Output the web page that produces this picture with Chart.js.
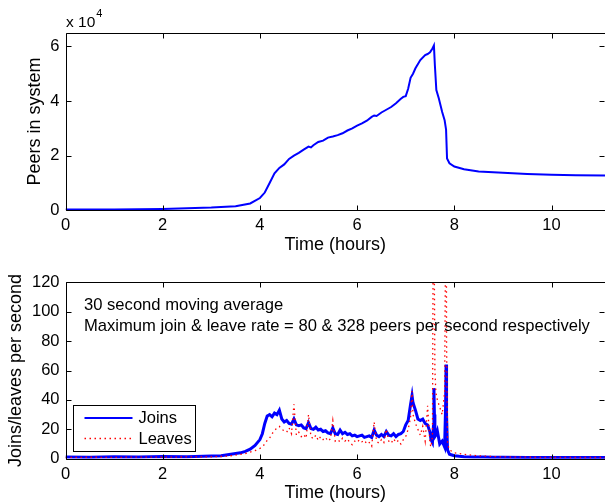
<!DOCTYPE html>
<html>
<head>
<meta charset="utf-8">
<script src="https://cdn.jsdelivr.net/npm/chart.js@4.4.1/dist/chart.umd.min.js"></script>
<style>
  html, body { margin: 0; padding: 0; background: #fff; }
  #wrap { position: relative; width: 605px; height: 504px; overflow: hidden; }
  canvas { position: absolute; left: 0; }
  #peers { top: 0; }
  #rates { top: 260px; }
</style>
</head>
<body>
<div id="wrap">
  <canvas id="peers" width="605" height="260"></canvas>
  <canvas id="rates" width="605" height="244"></canvas>
</div>
<script>
// top panel: peers in system
const peerHours = [0, 1, 2, 3, 3.5, 3.8, 4.0, 4.1, 4.2, 4.3, 4.4, 4.5, 4.6, 4.7, 4.8, 4.9, 5.0, 5.05,
  5.1, 5.2, 5.3, 5.4, 5.5, 5.6, 5.7, 5.8, 5.9, 6.0, 6.1, 6.2, 6.3, 6.35, 6.4, 6.5, 6.6, 6.7, 6.8,
  6.9, 6.95, 7.0, 7.05, 7.1, 7.15, 7.2, 7.3, 7.4, 7.45, 7.5, 7.55, 7.58, 7.6, 7.63, 7.68, 7.75,
  7.8, 7.83, 7.85, 7.9, 8.0, 8.2, 8.5, 9.0, 9.5, 10, 10.5, 11.1];
const peerCounts = [300, 300, 500, 1000, 1500, 2500, 4500, 6500, 10000, 13500, 15500, 16800, 18800,
  20000, 21000, 22200, 23300, 23000, 23800, 25000, 25500, 26600, 27000, 27500, 28200, 29200, 30000,
  31000, 31800, 32800, 34200, 34700, 34500, 35800, 36800, 37800, 39200, 40800, 41500, 41800, 44500,
  48500, 50000, 52000, 55000, 56800, 57200, 57800, 59200, 60300, 53000, 44000, 41000, 36000, 33000,
  29500, 19000, 17200, 16000, 15000, 14200, 13700, 13300, 13000, 12800, 12700];

// bottom panel: joins and leaves per second (30 s moving average)
const rateHours = [0, 0.5, 1, 1.5, 2, 2.5, 3, 3.2, 3.4, 3.6,
  3.7, 3.8, 3.9, 4.0, 4.05, 4.1, 4.15, 4.2, 4.25, 4.3,
  4.35, 4.4, 4.45, 4.5, 4.55, 4.6, 4.65, 4.7, 4.75, 4.8,
  4.85, 4.9, 4.95, 5.0, 5.05, 5.1, 5.15, 5.2, 5.25, 5.3,
  5.35, 5.4, 5.45, 5.5, 5.55, 5.6, 5.65, 5.7, 5.75, 5.8,
  5.85, 5.9, 5.95, 6.0, 6.05, 6.1, 6.15, 6.2, 6.25, 6.3,
  6.35, 6.4, 6.45, 6.5, 6.55, 6.6, 6.65, 6.7, 6.75, 6.8,
  6.85, 6.9, 6.95, 7.0, 7.05, 7.1, 7.13, 7.15, 7.2, 7.25,
  7.3, 7.35, 7.4, 7.45, 7.5, 7.52, 7.55, 7.57, 7.58, 7.59,
  7.6, 7.62, 7.65, 7.7, 7.75, 7.8, 7.82, 7.83, 7.84, 7.86,
  7.9, 7.95, 8.0, 8.1, 8.2, 8.4, 8.6, 8.8, 9.0, 9.5,
  10, 10.5, 11.1];
const joinRates = [1.2, 1.0, 1.3, 1.1, 1.5, 1.3, 1.8, 2.0, 3.0, 4.0,
  5.0, 6.5, 9, 13, 17, 24, 29, 30, 28.5, 31,
  30, 33, 27, 25, 26, 24, 23.5, 27, 23, 22.5,
  23, 21, 20.5, 24.5, 20.5, 20, 21.5, 19.5, 20, 18.5,
  19, 17.5, 17, 21, 17, 16.5, 19.5, 17, 18, 16.5,
  17, 15.5, 16, 15, 15.5, 16, 14.5, 15, 15.5, 14.5,
  19.5, 16, 15, 16.5, 15, 18.5, 16, 15.5, 17, 15,
  16.5, 17, 18.5, 23, 26, 37, 43, 38, 33, 27,
  26, 27, 24, 23, 18, 13, 11, 22, 48, 30,
  15, 16, 19, 10, 12, 8, 35, 64, 30, 6,
  3, 2.5, 2, 1.6, 1.4, 1.2, 1.1, 1.0, 1.0, 0.9,
  0.9, 0.8, 0.8];
const leaveRates = [0.8, 1.0, 0.9, 1.1, 1.0, 1.2, 1.3, 1.5, 2.0, 3.0,
  3.5, 4.5, 5.5, 7, 8, 10, 12.5, 14, 17, 19,
  21, 22, 20, 19, 18, 21, 17, 37, 16, 18,
  15, 16.5, 14, 30, 15, 13.5, 16, 12.5, 15, 13,
  14.5, 12, 13.5, 26, 12, 13, 11.5, 14, 12, 13.5,
  11, 9.5, 12, 11, 13, 11.5, 12.5, 10, 11, 8.5,
  25, 12, 10.5, 13, 11, 20, 12, 10.5, 13.5, 11,
  12.5, 10, 13, 15, 20, 28, 46, 30, 24, 20,
  16, 22, 12, 36, 10, 8, 15, 200, 328, 120,
  60, 45, 40, 35, 30, 45, 150, 260, 80, 10,
  6, 5, 4, 3.5, 3, 2.2, 1.8, 1.5, 1.2, 1.0,
  0.9, 0.8, 0.8];

const hourTicks = [0, 2, 4, 6, 8, 10];
const peerTicks = [0, 20000, 40000, 60000];
const rateTicks = [0, 20, 40, 60, 80, 100, 120];
const rateNotes = ['30 second moving average',
  'Maximum join & leave rate = 80 & 328 peers per second respectively'];

const FONT = '"Liberation Sans", Arial, Helvetica, sans-serif';
const TICK = 5;

// matlab look: full box, inward ticks on all four sides, plus legend / notes
const matlabFrame = {
  id: 'matlabFrame',
  afterDatasetsDraw(chart, args, opts) {
    const {ctx, chartArea: a, scales: {x, y}} = chart;
    const L = Math.round(a.left) + 0.5, R = Math.round(a.right) + 0.5;
    const T = Math.round(a.top) + 0.5, B = Math.round(a.bottom) + 0.5;
    ctx.save();
    ctx.strokeStyle = '#000';
    ctx.lineWidth = 1;
    ctx.beginPath();
    ctx.moveTo(L, T); ctx.lineTo(R, T); ctx.lineTo(R, B); ctx.lineTo(L, B); ctx.closePath();
    x.ticks.forEach((t) => {
      const px = Math.round(x.getPixelForValue(t.value)) + 0.5;
      ctx.moveTo(px, B); ctx.lineTo(px, B - TICK);
      ctx.moveTo(px, T); ctx.lineTo(px, T + TICK);
    });
    y.ticks.forEach((t) => {
      const py = Math.round(y.getPixelForValue(t.value)) + 0.5;
      ctx.moveTo(L, py); ctx.lineTo(L + TICK, py);
      ctx.moveTo(R - 1, py); ctx.lineTo(R - 1 - TICK, py);
    });
    ctx.stroke();

    ctx.fillStyle = '#000';
    if (opts.exponent) {
      ctx.textBaseline = 'alphabetic';
      ctx.textAlign = 'left';
      ctx.font = '15.5px ' + FONT;
      ctx.fillText('x 10', 66, 27);
      const w = ctx.measureText('x 10').width;
      ctx.font = '11px ' + FONT;
      ctx.fillText(opts.exponent, 66 + w + 1, 17);
    }
    if (opts.notes) {
      ctx.font = '16.6px ' + FONT;
      ctx.textAlign = 'left';
      ctx.textBaseline = 'middle';
      opts.notes.forEach((s, i) => ctx.fillText(s, 84, 45 + i * 21));
    }
    if (opts.legend) {
      const bx = 73.5, by = 145.5, bw = 122, bh = 46;
      ctx.fillStyle = '#fff';
      ctx.fillRect(bx, by, bw, bh);
      ctx.strokeStyle = '#000';
      ctx.lineWidth = 1;
      ctx.strokeRect(bx, by, bw, bh);
      const items = chart.data.datasets.slice().sort((p, q) => q.order - p.order);
      items.forEach((ds, i) => {
        const ly = by + 12.5 + i * 20.5;
        ctx.strokeStyle = ds.borderColor;
        ctx.lineWidth = Math.min(ds.borderWidth, 2.2);
        ctx.setLineDash(ds.borderDash || []);
        ctx.beginPath();
        ctx.moveTo(bx + 11, ly); ctx.lineTo(bx + 59, ly);
        ctx.stroke();
        ctx.setLineDash([]);
        ctx.fillStyle = '#000';
        ctx.font = '16.5px ' + FONT;
        ctx.textAlign = 'left';
        ctx.textBaseline = 'middle';
        ctx.fillText(ds.label, bx + 65, ly + 0.5);
      });
    }
    ctx.restore();
  }
};

const fixSize = (size) => (scale) => {
  if (scale.isHorizontal()) scale.height = size; else scale.width = size;
};
const useTicks = (values) => (scale) => {
  scale.ticks = values.map((v) => ({value: v}));
};

const xAxis = (height, labelPad, titlePad) => ({
  type: 'linear',
  min: 0,
  max: 11.1,
  grid: {display: false, drawTicks: false},
  border: {display: false},
  afterBuildTicks: useTicks(hourTicks),
  afterFit: fixSize(height),
  ticks: {color: '#000', padding: labelPad, maxRotation: 0, font: {family: FONT, size: 16.5}},
  title: {display: true, text: 'Time (hours)', color: '#000',
    padding: {top: 0, bottom: titlePad}, font: {family: FONT, size: 18}}
});

const yAxis = (max, ticks, title, titlePad, fmt) => ({
  type: 'linear',
  min: 0,
  max: max,
  grid: {display: false, drawTicks: false},
  border: {display: false},
  afterBuildTicks: useTicks(ticks),
  afterFit: fixSize(65.5),
  ticks: {color: '#000', padding: 6, font: {family: FONT, size: 16.5}, callback: fmt},
  title: {display: true, text: title, color: '#000',
    padding: {top: titlePad, bottom: 0}, font: {family: FONT, size: 18}}
});

new Chart(document.getElementById('peers'), {
  type: 'line',
  data: {
    datasets: [{
      label: 'Peers',
      data: peerHours.map((h, i) => ({x: h, y: peerCounts[i]})),
      borderColor: '#0000ff',
      borderWidth: 2,
      pointRadius: 0,
      tension: 0
    }]
  },
  options: {
    responsive: false,
    animation: false,
    layout: {padding: {top: 32.7, left: 0, right: 0, bottom: 0}},
    scales: {
      x: xAxis(49.7, 5.5, 4),
      y: yAxis(65000, peerTicks, 'Peers in system', 24, (v) => v / 10000)
    },
    plugins: {
      legend: {display: false},
      tooltip: {enabled: false},
      matlabFrame: {exponent: '4'}
    }
  },
  plugins: [matlabFrame]
});

new Chart(document.getElementById('rates'), {
  type: 'line',
  data: {
    datasets: [
      {
        label: 'Joins',
        data: rateHours.map((h, i) => ({x: h, y: joinRates[i]})),
        borderColor: '#0000ff',
        borderWidth: 3,
        pointRadius: 0,
        tension: 0,
        order: 1
      },
      {
        label: 'Leaves',
        data: rateHours.map((h, i) => ({x: h, y: leaveRates[i]})),
        borderColor: '#ff0000',
        borderWidth: 1.3,
        borderDash: [1.5, 3.5],
        pointRadius: 0,
        tension: 0,
        order: 0
      }
    ]
  },
  options: {
    responsive: false,
    animation: false,
    layout: {padding: {top: 22.3, left: 0, right: 0, bottom: 0}},
    scales: {
      x: xAxis(45.3, 6, 0.5),
      y: yAxis(120, rateTicks, 'Joins/leaves per second', 5, (v) => v)
    },
    plugins: {
      legend: {display: false},
      tooltip: {enabled: false},
      matlabFrame: {legend: true, notes: rateNotes}
    }
  },
  plugins: [matlabFrame]
});
</script>
</body>
</html>
